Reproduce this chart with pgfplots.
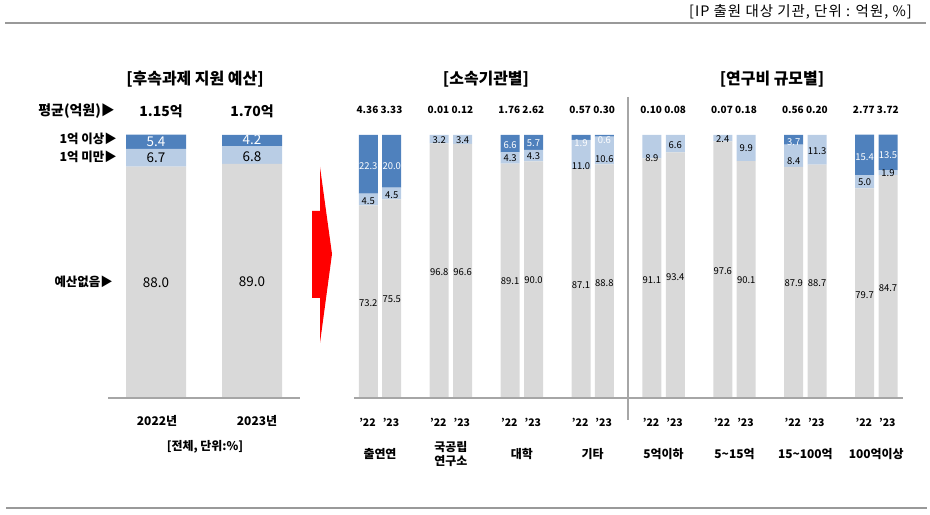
\documentclass[border=0pt]{standalone}
\usepackage{fontspec}
\setmainfont{Noto Sans CJK KR}
\usepackage{pgfplots}
\usepackage{pgfplotstable}
\pgfplotsset{compat=1.18}
\definecolor{hiblue}{HTML}{4F81BD}
\definecolor{loblue}{HTML}{B9CDE5}
\definecolor{nogray}{HTML}{D9D9D9}
\definecolor{rulegray}{HTML}{A6A6A6}
\newcommand\fs[1]{\fontsize{#1}{#1}\selectfont}

% overall budget share, 2022 / 2023
\pgfplotstableread{
x none lo hi
0 88.0 6.7 5.4
1 89.0 6.8 4.2
}\overall

% by institution type (k = 0..3) and by R&D size (k = 4..7)
\pgfplotstableread{
x      none lo   hi
-0.165 73.2 4.5  22.3
0.165  75.5 4.5  20.0
0.835  96.8 3.2  0
1.165  96.6 3.4  0
1.835  89.1 4.3  6.6
2.165  90.0 4.3  5.7
2.835  87.1 11.0 1.9
3.165  88.8 10.6 0.6
3.835  91.1 8.9  0
4.165  93.4 6.6  0
4.835  97.6 2.4  0
5.165  90.1 9.9  0
5.835  87.9 8.4  3.7
6.165  88.7 11.3 0
6.835  79.7 5.0  15.4
7.165  84.7 1.9  13.5
}\bygroup

\pgfplotsset{barpanel/.style={hide axis, scale only axis, enlargelimits=false,
  ymin=0, ymax=100, height=263bp, ybar stacked, clip=false}}

\begin{document}
\begin{tikzpicture}
\useasboundingbox (0,0) rectangle (930bp,515bp);

\begin{axis}[barpanel, at={(108bp,117bp)}, anchor=south west,
  width=192bp, xmin=-0.5, xmax=1.5, bar width=0.625]
\addplot[fill=nogray, draw=none] table[x=x, y=none] {\overall};
\addplot[fill=loblue, draw=none] table[x=x, y=lo] {\overall};
\addplot[fill=hiblue, draw=none] table[x=x, y=hi] {\overall};
\end{axis}

\begin{axis}[barpanel, at={(354bp,117bp)}, anchor=south west,
  width=549bp, xmin=-0.3667, xmax=7.3766, bar width=0.268]
\addplot[fill=nogray, draw=none] table[x=x, y=none] {\bygroup};
\addplot[fill=loblue, draw=none] table[x=x, y=lo] {\bygroup};
\addplot[fill=hiblue, draw=none] table[x=x, y=hi] {\bygroup};
\end{axis}

\begin{scope}[x=1bp, y=-1bp, shift={(0bp,515bp)}, every node/.style={inner sep=0pt}]
% rules
\draw[black!40, line width=1.3bp] (5,23) -- (926,23);
\draw[black!40, line width=1.3bp] (6,508) -- (927,508);
\draw[rulegray, line width=1.3bp] (108,398) -- (300,398);
\draw[rulegray, line width=1.3bp] (354,398) -- (903,398);
\draw[rulegray, line width=2bp] (627.5,97) -- (627.5,420);
% arrow
\fill[red] (312,211) -- (320,211) -- (320,167) -- (332,254) -- (320,343) -- (320,298) -- (312,298) -- cycle;

\node[anchor=east, font=\fs{14.5}\addfontfeatures{LetterSpace=7}] at (912,12) {[IP 출원 대상 기관, 단위 : 억원, \%]};

% left panel
\node[font=\fs{16}\bfseries] at (195,79) {[후속과제 지원 예산]};
\node[font=\fs{16}\bfseries] at (486,79) {[소속기관별]};
\node[font=\fs{16}\bfseries] at (772,79) {[연구비 규모별]};
\node[anchor=east, font=\fs{14}\bfseries] at (115,111) {평균(억원)▶};
\node[font=\fs{14}\bfseries] at (161,111) {1.15억};
\node[font=\fs{14}\bfseries] at (252,111) {1.70억};
\node[anchor=east, font=\fs{12.5}\bfseries] at (117,139) {1억 이상▶};
\node[anchor=east, font=\fs{12.5}\bfseries] at (117,157) {1억 미만▶};
\node[anchor=east, font=\fs{12.5}\bfseries] at (113,282) {예산없음▶};
\foreach \x/\y/\t/\c in {156/141.5/5.4/white, 156/158/6.7/black, 156/282.5/88.0/black,
  252/140/4.2/white, 252/157/6.8/black, 252/282/89.0/black}
  \node[font=\fs{13.5}, text=\c] at (\x,\y) {\t};
\node[font=\fs{12}\bfseries] at (157,420.7) {2022년};
\node[font=\fs{12}\bfseries] at (257,420.7) {2023년};
\node[font=\fs{12}\bfseries] at (205,446.7) {[전체, 단위:\%]};

% middle and right panels
\foreach \k/\a/\b in {0/4.36/3.33, 1/0.01/0.12, 2/1.76/2.62, 3/0.57/0.30,
  4/0.10/0.08, 5/0.07/0.18, 6/0.56/0.20, 7/2.77/3.72} {
  \node[font=\fs{10}\bfseries] at ({380+70.9*\k-12.5},110) {\a};
  \node[font=\fs{10}\bfseries] at ({380+70.9*\k+11.5},110) {\b};
  \node[font=\fs{10.5}\bfseries] at ({380+70.9*\k-12.5},422) {'22};
  \node[font=\fs{10.5}\bfseries] at ({380+70.9*\k+11},422) {'23};
}
\foreach \k/\s/\y/\t/\c in {
  0/-1/166/22.3/white, 0/-1/200.7/4.5/black, 0/-1/302.7/73.2/black,
  0/1/166/20.0/white, 0/1/195/4.5/black, 0/1/299.3/75.5/black,
  1/-1/140/3.2/black, 1/-1/271.7/96.8/black,
  1/1/140/3.4/black, 1/1/271.7/96.6/black,
  2/-1/145/6.6/white, 2/-1/158.3/4.3/black, 2/-1/281/89.1/black,
  2/1/143/5.7/white, 2/1/156/4.3/black, 2/1/280/90.0/black,
  3/-1/143/1.9/white, 3/-1/166/11.0/black, 3/-1/285/87.1/black,
  3/1/140/0.6/white, 3/1/159/10.6/black, 3/1/282.7/88.8/black,
  4/-1/158.3/8.9/black, 4/-1/279.7/91.1/black,
  4/1/145/6.6/black, 4/1/276.7/93.4/black,
  5/-1/139/2.4/black, 5/-1/270.7/97.6/black,
  5/1/148.3/9.9/black, 5/1/280/90.1/black,
  6/-1/141.7/3.7/white, 6/-1/161/8.4/black, 6/-1/283/87.9/black,
  6/1/151/11.3/black, 6/1/282.7/88.7/black,
  7/-1/156.7/15.4/white, 7/-1/182/5.0/black, 7/-1/295/79.7/black,
  7/1/154.7/13.5/white, 7/1/173.3/1.9/black, 7/1/287.7/84.7/black}
  \node[font=\fs{9.5}, text=\c] at ({380+70.9*\k+11.7*\s},\y) {\t};
\foreach \k/\t in {0/출연연, 2/대학, 3/기타, 4/5억이하, 5/5\textasciitilde15억,
  6/15\textasciitilde100억, 7/100억이상}
  \node[font=\fs{12}\bfseries] at ({380+70.9*\k},454) {\t};
\node[font=\fontsize{12}{14}\selectfont\bfseries, align=center] at (450.9,453.7) {국공립\\연구소};
\end{scope}
\end{tikzpicture}
\end{document}
